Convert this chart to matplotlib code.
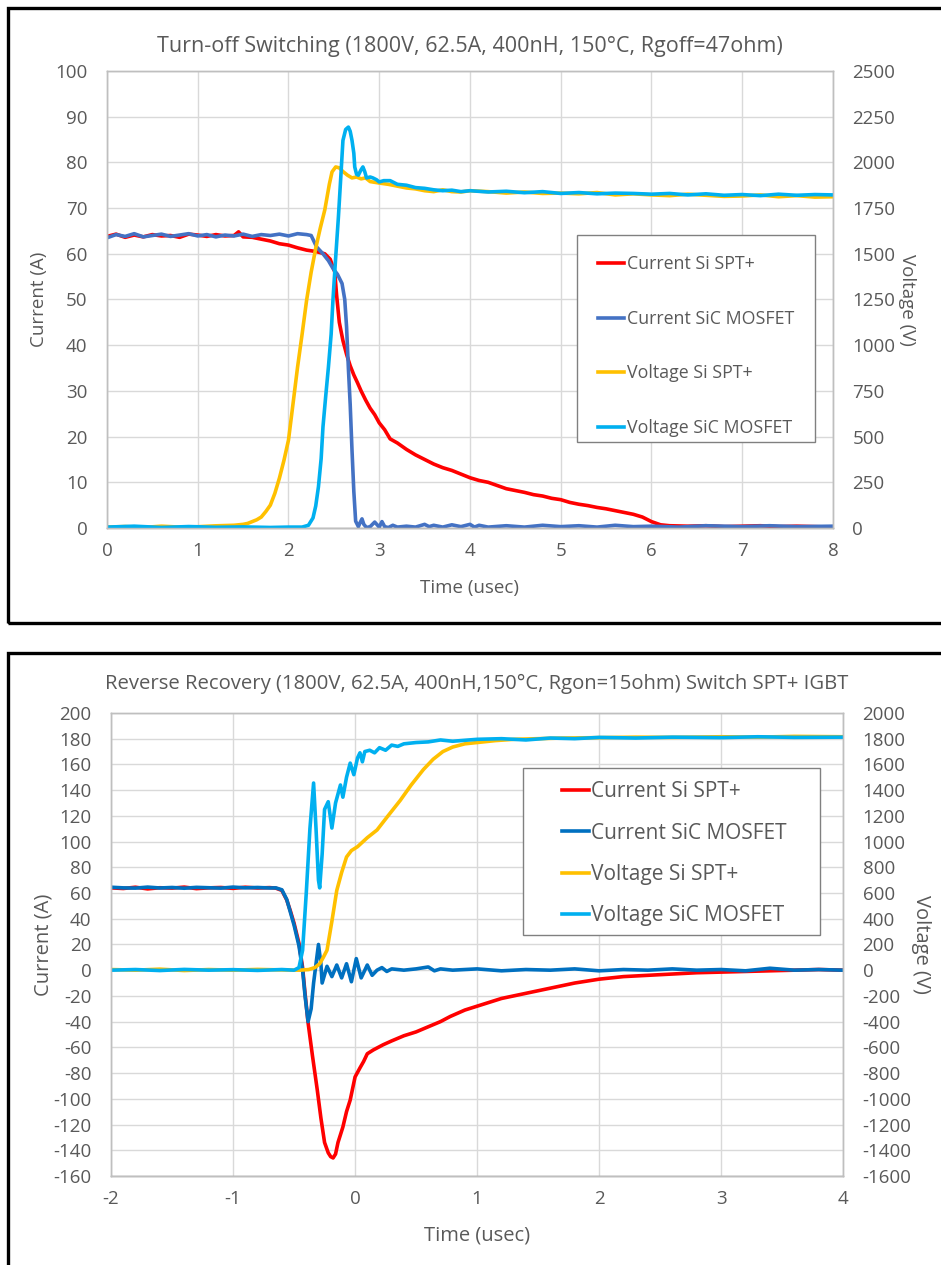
import numpy as np
import matplotlib.pyplot as plt
from matplotlib.patches import Rectangle

plt.rcParams['font.family'] = ['Open Sans', 'DejaVu Sans']
plt.rcParams['axes.unicode_minus'] = False

GREY = '#595959'
RED = '#FF0000'
BLUE_TOP = '#4472C4'
BLUE_BOT = '#0070C0'
YELLOW = '#FFC000'
CYAN = '#00B0F0'

# ---------------- turn-off switching (top) ----------------
t_i_si_off = [0, 0.1, 0.2, 0.3, 0.4, 0.5, 0.6, 0.7, 0.8, 0.9, 1.0, 1.1, 1.2, 1.3, 1.4, 1.45,
              1.5, 1.6, 1.7, 1.8, 1.9, 2.0, 2.1, 2.2, 2.3, 2.4, 2.46, 2.51, 2.53, 2.56, 2.6,
              2.64, 2.68, 2.72, 2.76, 2.8, 2.85, 2.9, 2.95, 3.0, 3.06, 3.12, 3.2, 3.3, 3.4,
              3.5, 3.6, 3.7, 3.8, 3.9, 4.0, 4.1, 4.2, 4.3, 4.4, 4.5, 4.6, 4.7, 4.8, 4.9, 5.0,
              5.1, 5.2, 5.3, 5.4, 5.5, 5.6, 5.7, 5.8, 5.9, 6.0, 6.1, 6.2, 6.4, 6.6, 6.8, 7.0,
              7.2, 7.4, 7.6, 7.8, 8.0]
i_si_off = [63.8, 64.3, 63.6, 64.1, 63.7, 64.2, 63.9, 64.0, 63.6, 64.3, 64.1, 63.8, 64.2,
            63.9, 64.0, 64.8, 63.7, 63.6, 63.2, 62.8, 62.2, 61.9, 61.3, 60.8, 60.5, 60.0,
            58.8, 56.0, 51.0, 45.0, 41.0, 38.0, 35.5, 33.5, 31.8, 30.0, 28.0, 26.2, 24.8,
            23.0, 21.5, 19.5, 18.6, 17.2, 16.0, 15.0, 14.0, 13.2, 12.6, 11.8, 11.0, 10.4,
            10.0, 9.3, 8.6, 8.2, 7.8, 7.3, 7.0, 6.5, 6.2, 5.6, 5.2, 4.9, 4.5, 4.2, 3.8, 3.4,
            3.0, 2.4, 1.4, 0.7, 0.5, 0.4, 0.5, 0.3, 0.4, 0.5, 0.3, 0.4, 0.3, 0.2]

t_i_sic_off = [0, 0.1, 0.2, 0.3, 0.4, 0.5, 0.6, 0.7, 0.8, 0.9, 1.0, 1.1, 1.2, 1.3, 1.4, 1.5,
               1.6, 1.7, 1.8, 1.9, 2.0, 2.1, 2.2, 2.25, 2.31, 2.38, 2.44, 2.49, 2.54, 2.59,
               2.62, 2.64, 2.66, 2.68, 2.7, 2.72, 2.74, 2.77, 2.79, 2.81, 2.83, 2.86, 2.9,
               2.95, 3.0, 3.03, 3.06, 3.1, 3.15, 3.2, 3.3, 3.4, 3.5, 3.55, 3.6, 3.7, 3.8,
               3.9, 4.0, 4.05, 4.1, 4.2, 4.4, 4.6, 4.8, 5.0, 5.2, 5.4, 5.6, 5.8, 6.0, 6.3,
               6.6, 7.0, 7.3, 7.6, 8.0]
i_sic_off = [63.5, 64.2, 63.8, 64.4, 63.7, 64.0, 64.3, 63.8, 64.1, 64.4, 63.9, 64.2, 63.7,
             64.1, 63.9, 64.3, 63.8, 64.2, 64.0, 64.3, 63.9, 64.4, 64.2, 64.0, 61.5, 60.0,
             58.5, 56.8, 55.5, 53.5, 50.0, 44.0, 35.0, 27.0, 17.0, 8.0, 1.5, 0.3, 1.2, 2.0,
             0.8, 0.1, 0.3, 1.3, 0.2, 1.4, 0.3, 0.1, 0.6, 0.2, 0.4, 0.2, 0.8, 0.3, 0.6, 0.2,
             0.7, 0.3, 0.8, 0.2, 0.6, 0.2, 0.5, 0.2, 0.6, 0.3, 0.5, 0.2, 0.6, 0.3, 0.4, 0.2,
             0.5, 0.3, 0.5, 0.3, 0.4]

t_v_si_off = [0, 0.2, 0.4, 0.6, 0.8, 1.0, 1.2, 1.4, 1.5, 1.55, 1.6, 1.65, 1.7, 1.75, 1.8,
              1.85, 1.9, 1.95, 2.0, 2.05, 2.1, 2.15, 2.2, 2.25, 2.3, 2.35, 2.4, 2.45, 2.48,
              2.52, 2.56, 2.6, 2.65, 2.7, 2.75, 2.8, 2.85, 2.9, 3.0, 3.1, 3.2, 3.3, 3.4, 3.5,
              3.6, 3.7, 3.8, 3.9, 4.0, 4.2, 4.4, 4.6, 4.8, 5.0, 5.2, 5.4, 5.6, 5.8, 6.0, 6.2,
              6.4, 6.6, 6.8, 7.0, 7.2, 7.4, 7.6, 7.8, 8.0]
v_si_off = [5, 8, 3, 10, 5, 7, 12, 15, 20, 25, 35, 45, 60, 90, 125, 190, 273, 370, 481, 680,
            880, 1060, 1247, 1400, 1530, 1640, 1740, 1880, 1948, 1975, 1970, 1950, 1930,
            1915, 1920, 1910, 1915, 1895, 1887, 1880, 1870, 1860, 1855, 1845, 1840, 1850,
            1840, 1838, 1845, 1840, 1832, 1838, 1830, 1832, 1828, 1835, 1822, 1828, 1822,
            1818, 1826, 1820, 1814, 1816, 1822, 1812, 1818, 1810, 1812]

t_v_sic_off = [0, 0.3, 0.6, 0.9, 1.2, 1.5, 1.8, 2.0, 2.15, 2.22, 2.27, 2.3, 2.33, 2.36, 2.38,
               2.41, 2.44, 2.47, 2.49, 2.52, 2.55, 2.58, 2.6, 2.63, 2.66, 2.68, 2.7, 2.72,
               2.73, 2.75, 2.77, 2.8, 2.82, 2.84, 2.86, 2.9, 2.93, 2.97, 3.0, 3.05, 3.12,
               3.2, 3.3, 3.4, 3.5, 3.6, 3.7, 3.8, 3.9, 4.0, 4.2, 4.4, 4.6, 4.8, 5.0, 5.2,
               5.4, 5.6, 5.8, 6.0, 6.2, 6.4, 6.6, 6.8, 7.0, 7.2, 7.4, 7.6, 7.8, 8.0]
v_sic_off = [5, 10, 3, 8, 4, 6, 3, 5, 5, 15, 55, 120, 225, 380, 553, 720, 880, 1060, 1247,
             1480, 1700, 1950, 2120, 2180, 2193, 2170, 2120, 2050, 1975, 1935, 1930, 1960,
             1975, 1950, 1915, 1920, 1915, 1905, 1893, 1900, 1900, 1880, 1875, 1862, 1858,
             1850, 1845, 1848, 1840, 1845, 1838, 1842, 1834, 1840, 1830, 1835, 1828, 1832,
             1830, 1826, 1830, 1822, 1828, 1820, 1824, 1818, 1826, 1820, 1824, 1822]

# ---------------- reverse recovery (bottom) ----------------
t_i_si_rr = [-2.0, -1.9, -1.8, -1.7, -1.6, -1.5, -1.4, -1.3, -1.2, -1.1, -1.0, -0.9, -0.8,
             -0.7, -0.65, -0.6, -0.56, -0.53, -0.5, -0.46, -0.43, -0.41, -0.385, -0.35,
             -0.31, -0.28, -0.25, -0.22, -0.2, -0.18, -0.16, -0.14, -0.1, -0.07, -0.04, 0.0,
             0.04, 0.07, 0.1, 0.15, 0.23, 0.3, 0.4, 0.5, 0.6, 0.7, 0.78, 0.9, 1.0, 1.1, 1.2,
             1.35, 1.5, 1.65, 1.8, 2.0, 2.2, 2.4, 2.6, 2.8, 3.0, 3.2, 3.4, 3.6, 3.8, 4.0]
i_si_rr = [64.0, 63.5, 64.5, 63.2, 64.1, 63.8, 64.6, 63.4, 64.0, 64.3, 63.6, 64.5, 63.9,
           64.2, 63.8, 62.0, 54.6, 46.0, 36.5, 21.0, 2.0, -18.0, -41.0, -66.0, -93.0,
           -115.0, -134.0, -142.0, -145.0, -146.0, -143.0, -134.0, -122.0, -110.0, -101.0,
           -83.0, -76.0, -71.0, -65.0, -62.0, -58.0, -55.0, -51.0, -48.0, -44.0, -40.0,
           -36.0, -31.0, -28.0, -25.0, -22.0, -19.0, -16.0, -13.0, -10.0, -7.0, -5.0, -4.0,
           -3.0, -2.0, -1.5, -1.0, -0.5, 0.0, 0.5, 0.0]

t_i_sic_rr = [-2.0, -1.9, -1.8, -1.7, -1.6, -1.5, -1.4, -1.3, -1.2, -1.1, -1.0, -0.9, -0.8,
              -0.7, -0.65, -0.6, -0.56, -0.53, -0.5, -0.46, -0.43, -0.41, -0.385, -0.36,
              -0.34, -0.32, -0.3, -0.28, -0.27, -0.23, -0.19, -0.15, -0.11, -0.07, -0.03,
              0.01, 0.05, 0.1, 0.14, 0.18, 0.22, 0.26, 0.3, 0.4, 0.5, 0.6, 0.65, 0.7, 0.8,
              1.0, 1.2, 1.4, 1.6, 1.8, 2.0, 2.2, 2.4, 2.6, 2.8, 3.0, 3.2, 3.4, 3.6, 3.8, 4.0]
i_sic_rr = [64.5, 64.0, 63.8, 64.6, 63.9, 64.3, 63.7, 64.4, 64.1, 63.8, 64.6, 64.0, 64.3,
            63.9, 64.0, 62.5, 55.0, 45.0, 35.0, 19.0, 0.0, -20.0, -40.0, -30.0, -10.0, 5.0,
            20.0, 5.0, -10.0, 3.0, -5.0, 4.0, -6.0, 5.0, -9.0, 9.0, -6.0, 4.0, -4.0, 0.0,
            2.0, -1.0, 1.0, 0.0, 1.0, 2.5, -0.5, 1.0, 0.0, 1.0, -0.5, 0.5, 0.0, 1.0, -0.5,
            0.5, 0.0, 1.0, 0.0, 0.5, -0.5, 1.5, 0.0, 0.5, 0.0]

t_v_si_rr = [-2.0, -1.8, -1.6, -1.4, -1.2, -1.0, -0.8, -0.6, -0.45, -0.38, -0.33, -0.29,
             -0.26, -0.23, -0.19, -0.15, -0.11, -0.07, -0.03, 0.02, 0.1, 0.18, 0.27, 0.37,
             0.46, 0.56, 0.64, 0.72, 0.8, 0.9, 1.0, 1.15, 1.3, 1.5, 1.7, 2.0, 2.3, 2.6, 3.0,
             3.3, 3.6, 4.0]
v_si_rr = [5, 0, 8, -3, 5, 0, 6, 2, 0, 5, 20, 50, 100, 155, 380, 620, 760, 880, 930, 960,
           1030, 1090, 1200, 1320, 1440, 1560, 1640, 1700, 1735, 1760, 1770, 1785, 1795,
           1800, 1805, 1808, 1812, 1810, 1815, 1812, 1818, 1815]

t_v_sic_rr = [-2.0, -1.8, -1.6, -1.4, -1.2, -1.0, -0.8, -0.6, -0.5, -0.46, -0.43, -0.4,
              -0.37, -0.34, -0.32, -0.3, -0.29, -0.27, -0.25, -0.22, -0.19, -0.16, -0.12,
              -0.1, -0.07, -0.04, -0.01, 0.02, 0.04, 0.06, 0.08, 0.12, 0.16, 0.2, 0.25, 0.3,
              0.35, 0.4, 0.5, 0.6, 0.7, 0.8, 1.0, 1.2, 1.4, 1.6, 1.8, 2.0, 2.3, 2.6, 3.0,
              3.3, 3.6, 4.0]
v_sic_rr = [0, 5, -3, 6, 0, 4, -2, 5, 0, 20, 155, 600, 1100, 1455, 1100, 700, 640, 900, 1250,
            1310, 1105, 1300, 1440, 1345, 1500, 1610, 1520, 1650, 1690, 1620, 1700, 1710,
            1690, 1730, 1710, 1750, 1740, 1760, 1770, 1775, 1790, 1780, 1795, 1800, 1790,
            1805, 1800, 1810, 1805, 1812, 1808, 1815, 1810, 1812]

labels = ['Current Si SPT+', 'Current SiC MOSFET', 'Voltage Si SPT+', 'Voltage SiC MOSFET']

fig = plt.figure(figsize=(9.41, 12.65), dpi=100)


def style(ax, ax2):
    for a in (ax, ax2):
        for s in a.spines.values():
            s.set_color('#BFBFBF')
            s.set_linewidth(1)
        a.tick_params(length=0, colors=GREY, labelsize=13.5)
    ax.spines['bottom'].set_color('#8C8C8C')
    ax.grid(True, color='#D9D9D9', lw=1)
    ax.set_axisbelow(True)
    ax.tick_params(axis='y', pad=14)
    ax.tick_params(axis='x', pad=10)
    ax2.tick_params(axis='y', pad=14)
    for lab in ax2.get_yticklabels():
        lab.set_horizontalalignment('left')


def legend_box(ax2, handles, frame, anchor, **kw):
    # white box with grey edge drawn by hand, legend entries placed inside it
    ax2.add_patch(Rectangle(frame[:2], frame[2], frame[3], transform=ax2.transAxes,
                            facecolor='white', edgecolor='#808080', lw=1, zorder=5))
    leg = ax2.legend(handles, labels, loc='upper left', bbox_to_anchor=anchor,
                     borderaxespad=0, borderpad=0, frameon=False, labelcolor=GREY, **kw)
    leg.set_zorder(6)
    return leg


# top chart
ax = fig.add_axes([0.1137, 0.5826, 0.7715, 0.3613])
ax2 = ax.twinx()
h1, = ax.plot(t_i_si_off, i_si_off, color=RED, lw=2.6)
h2, = ax.plot(t_i_sic_off, i_sic_off, color=BLUE_TOP, lw=2.6)
h3, = ax2.plot(t_v_si_off, v_si_off, color=YELLOW, lw=2.6)
h4, = ax2.plot(t_v_sic_off, v_sic_off, color=CYAN, lw=2.6)
ax.set_xlim(0, 8)
ax.set_ylim(0, 100)
ax2.set_ylim(0, 2500)
ax.set_xticks(range(0, 9))
ax.set_yticks(range(0, 101, 10))
ax2.set_yticks(range(0, 2501, 250))
style(ax, ax2)
ax.set_title('Turn-off Switching (1800V, 62.5A, 400nH, 150°C, Rgoff=47ohm)',
             color=GREY, fontsize=15.5, pad=14)
ax.set_xlabel('Time (usec)', color=GREY, fontsize=13.5, labelpad=14)
ax.set_ylabel('Current (A)', color=GREY, fontsize=13.5, labelpad=5)
ax2.set_ylabel('Voltage (V)', color=GREY, fontsize=13.5, rotation=270)
ax2.yaxis.set_label_coords(1.114, 0.5)
legend_box(ax2, [h1, h2, h3, h4], (0.647, 0.188, 0.328, 0.453), (0.677, 0.597),
           fontsize=12.8, handlelength=1.45, handletextpad=0.15, labelspacing=2.06)

# bottom chart
bx = fig.add_axes([0.118, 0.0704, 0.778, 0.366])
bx2 = bx.twinx()
g1, = bx.plot(t_i_si_rr, i_si_rr, color=RED, lw=2.6)
g2, = bx.plot(t_i_sic_rr, i_sic_rr, color=BLUE_BOT, lw=2.6)
g3, = bx2.plot(t_v_si_rr, v_si_rr, color=YELLOW, lw=2.6)
g4, = bx2.plot(t_v_sic_rr, v_sic_rr, color=CYAN, lw=2.6)
bx.set_xlim(-2, 4)
bx.set_ylim(-160, 200)
bx2.set_ylim(-1600, 2000)
bx.set_xticks(range(-2, 5))
bx.set_yticks(range(-160, 201, 20))
bx2.set_yticks(range(-1600, 2001, 200))
style(bx, bx2)
bx.set_title('Reverse Recovery (1800V, 62.5A, 400nH,150°C, Rgon=15ohm) Switch SPT+ IGBT',
             color=GREY, fontsize=14.6, pad=17)
bx.set_xlabel('Time (usec)', color=GREY, fontsize=14.5, labelpad=13)
bx.set_ylabel('Current (A)', color=GREY, fontsize=14.5, labelpad=0)
bx2.set_ylabel('Voltage (V)', color=GREY, fontsize=14.5, rotation=270)
bx2.yaxis.set_label_coords(1.12, 0.5)
legend_box(bx2, [g1, g2, g3, g4], (0.563, 0.52, 0.406, 0.361), (0.616, 0.852),
           fontsize=15, handlelength=1.3, handletextpad=0.1, labelspacing=0.97)

# panel frames
fig.add_artist(Rectangle((0.0085, 0.5075), 1.2, 0.4862, transform=fig.transFigure,
                         fill=False, edgecolor='black', lw=2.4, clip_on=False))
fig.add_artist(Rectangle((0.0085, -0.1), 1.2, 0.5838, transform=fig.transFigure,
                         fill=False, edgecolor='black', lw=2.4, clip_on=False))

fig.savefig('out.png', dpi=100)
